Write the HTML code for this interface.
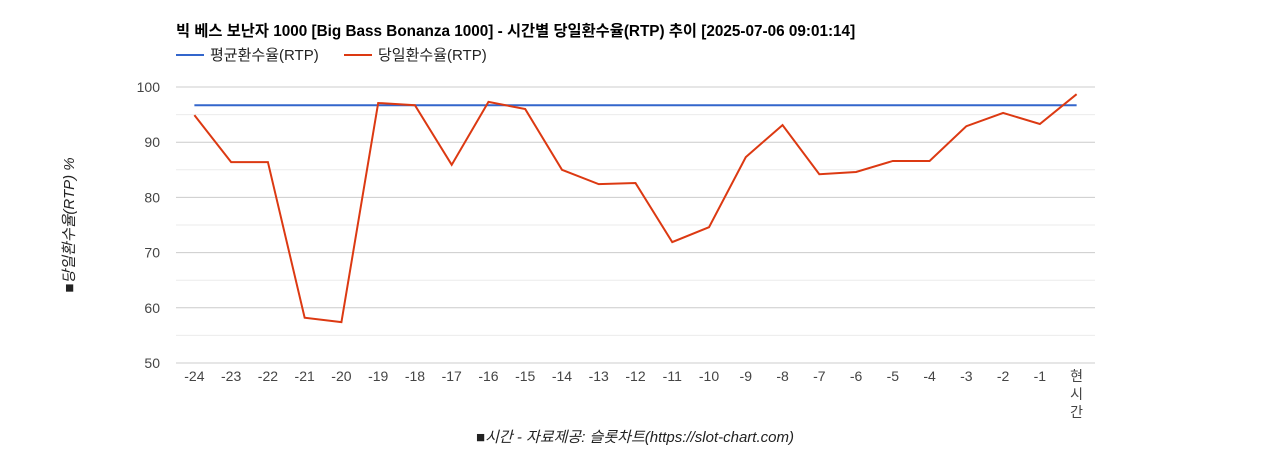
<!DOCTYPE html>
<html><head><meta charset="utf-8"><style>
body{margin:0;background:#fff;width:1268px;height:450px;overflow:hidden;font-family:"Liberation Sans","Noto Sans CJK KR",sans-serif}
</style></head><body>
<svg id="chart" width="1268" height="450" xmlns="http://www.w3.org/2000/svg" font-family="Liberation Sans, Noto Sans CJK KR, sans-serif">
<text x="176" y="36" font-size="15.3" font-weight="bold" fill="#000">빅 베스 보난자 1000 [Big Bass Bonanza 1000] - 시간별 당일환수율(RTP) 추이 [2025-07-06 09:01:14]</text>
<g><line x1="176" y1="55" x2="204" y2="55" stroke="#3366cc" stroke-width="2"/><text x="210" y="60" font-size="15" fill="#222">평균환수율(RTP)</text></g>
<g><line x1="344" y1="55" x2="372" y2="55" stroke="#dc3912" stroke-width="2"/><text x="378" y="60" font-size="15" fill="#222">당일환수율(RTP)</text></g>
<g id="grid"></g><g id="yticks"></g><g id="xticks"></g><g id="series"></g>
<text transform="translate(74,225) rotate(-90)" text-anchor="middle" font-size="15" font-style="italic" fill="#222">■당일환수율(RTP) %</text>
<text x="635" y="442" text-anchor="middle" font-size="15" font-style="italic" fill="#222">■시간 - 자료제공: 슬롯차트(https://slot-chart.com)</text>
</svg>
<script>
const categories=["-24","-23","-22","-21","-20","-19","-18","-17","-16","-15","-14","-13","-12","-11","-10","-9","-8","-7","-6","-5","-4","-3","-2","-1","현시간"];
const dailyRtp=[94.9,86.4,86.4,58.2,57.4,97.1,96.7,85.9,97.3,96.0,85.0,82.4,82.6,71.9,74.6,87.3,93.1,84.2,84.6,86.6,86.6,92.9,95.3,93.3,98.7];
const avgRtp=[96.7,96.7,96.7,96.7,96.7,96.7,96.7,96.7,96.7,96.7,96.7,96.7,96.7,96.7,96.7,96.7,96.7,96.7,96.7,96.7,96.7,96.7,96.7,96.7,96.7];
const yTicks=[50,60,70,80,90,100];
const NS="http://www.w3.org/2000/svg";
const L=176,R=1095,T=87,B=363,yMin=50,yMax=100;
const y=v=>B-(v-yMin)/(yMax-yMin)*(B-T);
const step=(R-L)/categories.length;
const x=i=>L+step*(i+0.5);
function mk(tag,attrs,parent){const e=document.createElementNS(NS,tag);for(const k in attrs)e.setAttribute(k,attrs[k]);document.getElementById(parent).appendChild(e);return e;}
for(let v=yMin;v<=yMax;v+=5){
 const g=mk('line',{x1:L,x2:R,y1:y(v),y2:y(v),stroke:v%10===0?'#ccc':'#ebebeb','stroke-width':1},'grid');
 
 
}
yTicks.forEach(v=>{const t=mk('text',{x:L-16,y:y(v)+5,'text-anchor':'end','font-size':14,fill:'#444'},'yticks');t.textContent=v;
 
 });
categories.forEach((c,i)=>{
 if(/[^\-0-9]/.test(c)){[...c].forEach((ch,j)=>{const t=mk('text',{x:x(i),y:381+j*18,'text-anchor':'middle','font-size':14,fill:'#444'},'xticks');t.textContent=ch;
 
 });}
 else{const t=mk('text',{x:x(i),y:381,'text-anchor':'middle','font-size':14,fill:'#444'},'xticks');t.textContent=c;
 
 }
});
const avg=mk('polyline',{points:avgRtp.map((v,i)=>x(i)+','+y(v)).join(' '),fill:'none',stroke:'#3366cc','stroke-width':2},'series');


const daily=mk('polyline',{points:dailyRtp.map((v,i)=>x(i)+','+y(v)).join(' '),fill:'none',stroke:'#dc3912','stroke-width':2},'series');


</script>
</body></html>
